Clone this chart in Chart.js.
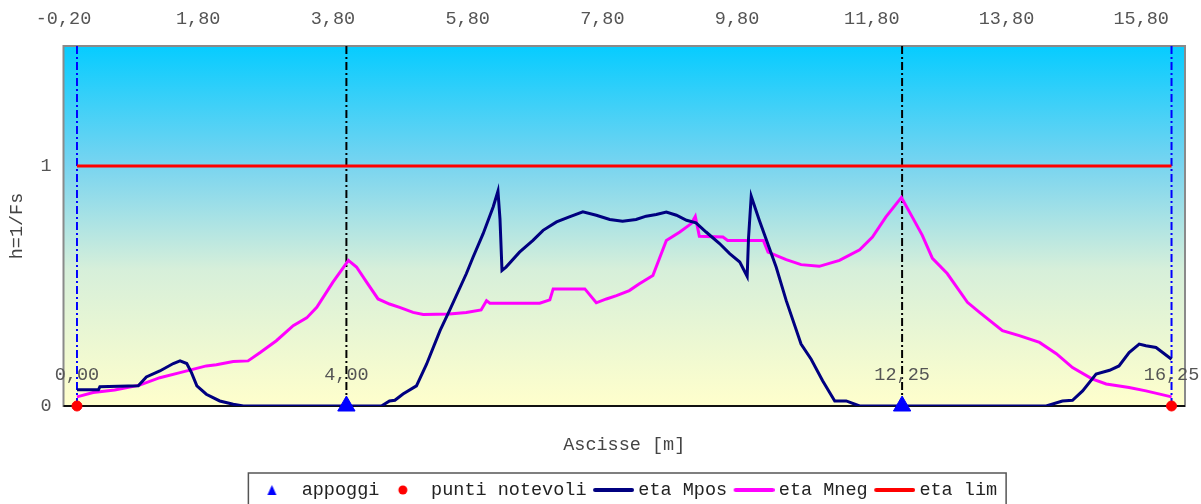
<!DOCTYPE html>
<html>
<head>
<meta charset="utf-8">
<script src="https://cdn.jsdelivr.net/npm/chart.js@4.4.1/dist/chart.umd.min.js"></script>
<style>
  html, body { margin: 0; padding: 0; background: #fff; }
  #wrap { width: 1201px; height: 504px; }
</style>
</head>
<body>
<div id="wrap"><canvas id="etacanvas" width="1201" height="504"></canvas></div>
<script>
// valori
let xTicks = [-0.2, 1.8, 3.8, 5.8, 7.8, 9.8, 11.8, 13.8, 15.8];
let yTicks = [0, 1];

let appoggiX = [4.00, 12.25];
let notevoliX = [0.00, 16.25];
let quoteX = [0.00, 4.00, 12.25, 16.25];

let mposX = [0, 0.32, 0.34, 0.91, 1.03, 1.23, 1.43, 1.53, 1.63, 1.7, 1.78, 1.92, 2.12, 2.32, 2.47,
    4.52, 4.64, 4.72, 4.84, 5.04, 5.19, 5.39, 5.53, 5.78, 5.88, 6.03, 6.18, 6.25, 6.28, 6.31,
    6.37, 6.57, 6.77, 6.92, 7.12, 7.31, 7.51, 7.71, 7.91, 8.1, 8.3, 8.45, 8.6, 8.75, 8.9,
    9.05, 9.19, 9.34, 9.54, 9.69, 9.84, 9.95, 9.97, 10.01, 10.13, 10.38, 10.53, 10.75, 10.9, 11.07,
    11.25, 11.42, 11.62, 14.39, 14.63, 14.78, 14.93, 15.13, 15.33, 15.47, 15.62, 15.77, 15.87, 16.02, 16.25];
let mposY = [0.068, 0.068, 0.08, 0.084, 0.121, 0.146, 0.177, 0.188, 0.177, 0.139, 0.084, 0.049, 0.021, 0.007, 0,
    0, 0.021, 0.024, 0.05, 0.084, 0.174, 0.314, 0.397, 0.551, 0.62, 0.718, 0.83, 0.895, 0.78, 0.565,
    0.579, 0.641, 0.69, 0.732, 0.767, 0.788, 0.809, 0.795, 0.777, 0.77, 0.777, 0.791, 0.798, 0.808, 0.795,
    0.774, 0.763, 0.725, 0.677, 0.635, 0.6, 0.54, 0.70, 0.874, 0.774, 0.579, 0.439, 0.258, 0.195, 0.105,
    0.021, 0.021, 0, 0, 0.021, 0.024, 0.063, 0.133, 0.149, 0.167, 0.223, 0.258, 0.251, 0.244, 0.195];

let mnegX = [0, 0.24, 0.56, 0.93, 1.23, 1.53, 1.92, 2.07, 2.32, 2.54, 2.72, 2.96, 3.21, 3.41, 3.56,
    3.8, 4.03, 4.15, 4.3, 4.47, 4.64, 4.79, 4.99, 5.14, 5.53, 5.78, 6.0, 6.08, 6.13, 6.87,
    7.02, 7.07, 7.54, 7.71, 7.86, 8.01, 8.2, 8.35, 8.55, 8.75, 8.95, 9.12, 9.18, 9.24, 9.59,
    9.66, 10.19, 10.26, 10.53, 10.75, 11.02, 11.32, 11.62, 11.81, 12.01, 12.24, 12.4, 12.55, 12.7, 12.92,
    13.22, 13.4, 13.74, 13.99, 14.29, 14.54, 14.78, 15.07, 15.28, 15.62, 15.87, 16.25];
let mnegY = [0.038, 0.056, 0.067, 0.087, 0.118, 0.139, 0.167, 0.172, 0.185, 0.188, 0.223, 0.272, 0.335, 0.367, 0.411,
    0.516, 0.607, 0.579, 0.516, 0.446, 0.425, 0.411, 0.39, 0.381, 0.383, 0.39, 0.40, 0.439, 0.428, 0.428,
    0.442, 0.488, 0.488, 0.43, 0.446, 0.46, 0.481, 0.509, 0.544, 0.69, 0.725, 0.76, 0.79, 0.707, 0.704,
    0.69, 0.69, 0.641, 0.61, 0.589, 0.582, 0.607, 0.651, 0.704, 0.788, 0.869, 0.788, 0.711, 0.615, 0.552,
    0.432, 0.39, 0.314, 0.293, 0.265, 0.218, 0.16, 0.113, 0.092, 0.077, 0.063, 0.038];

let limX = [0, 16.25];
let limY = [1, 1];

let monoFont = "'Liberation Mono', 'Courier New', monospace";
let fontSize = 18.5;

function toPoints(xs, ys) {
    return xs.map(function(x, i) { return { x: x, y: ys[i] }; });
}
function fmt(v) {
    return v.toFixed(2).replace('.', ',');
}

// icone della legenda (box largo 41)
function makeIcon(kind, color) {
    let c = document.createElement('canvas');
    c.width = 51; c.height = 16;
    let g = c.getContext('2d');
    g.fillStyle = color;
    g.strokeStyle = color;
    if (kind === 'tri') {
        g.beginPath();
        g.moveTo(25.5, 3); g.lineTo(30, 13); g.lineTo(21, 13);
        g.closePath(); g.fill();
    } else if (kind === 'dot') {
        g.beginPath();
        g.arc(27, 8, 4.5, 0, Math.PI * 2);
        g.fill();
    } else {
        g.lineWidth = 4;
        g.lineCap = 'round';
        g.beginPath();
        g.moveTo(12, 8); g.lineTo(49, 8);
        g.stroke();
    }
    return c;
}
let legendIcons = {
    'appoggi': makeIcon('tri', '#0000ff'),
    'punti notevoli': makeIcon('dot', '#ff0000'),
    'eta Mpos': makeIcon('line', '#000080'),
    'eta Mneg': makeIcon('line', '#ff00ff'),
    'eta lim': makeIcon('line', '#ff0000')
};

function verticalLine(x, color) {
    return {
        type: 'scatter',
        data: [{ x: x, y: 0 }, { x: x, y: 1.5 }],
        showLine: true,
        borderColor: color,
        borderWidth: 2,
        borderDash: [8, 3, 2, 3],
        pointRadius: 0,
        inLegend: false,
        order: 10
    };
}

let bgPlugin = {
    id: 'bgPlugin',
    beforeDraw: function(chart) {
        let a = chart.chartArea;
        let ctx = chart.ctx;
        let grad = ctx.createLinearGradient(0, a.top, 0, a.bottom);
        grad.addColorStop(0, '#06ccff');
        grad.addColorStop(0.33, '#78d4f0');
        grad.addColorStop(0.62, '#d6efda');
        grad.addColorStop(1, '#ffffcc');
        ctx.save();
        ctx.fillStyle = grad;
        ctx.fillRect(a.left, a.top, a.right - a.left, a.bottom - a.top);
        ctx.strokeStyle = '#8a8a8a';
        ctx.lineWidth = 2;
        ctx.strokeRect(a.left, a.top, a.right - a.left, a.bottom - a.top);
        ctx.strokeStyle = '#111';
        ctx.lineWidth = 2;
        ctx.beginPath();
        ctx.moveTo(a.left, a.bottom);
        ctx.lineTo(a.right, a.bottom);
        ctx.stroke();
        ctx.restore();
    },
    afterDraw: function(chart) {
        let ctx = chart.ctx;
        let xs = chart.scales.x;
        let ys = chart.scales.y;
        ctx.save();
        // quote sopra gli appoggi
        ctx.font = fontSize + 'px ' + monoFont;
        ctx.fillStyle = '#555';
        ctx.textAlign = 'center';
        ctx.textBaseline = 'middle';
        quoteX.forEach(function(v) {
            ctx.fillText(fmt(v), xs.getPixelForValue(v), ys.getPixelForValue(0) - 31);
        });
        // bordo legenda
        let boxes = chart.legend.legendHitBoxes;
        if (boxes && boxes.length) {
            let l = Math.min.apply(null, boxes.map(function(b) { return b.left; }));
            let r = Math.max.apply(null, boxes.map(function(b) { return b.left + b.width; }));
            ctx.strokeStyle = '#555';
            ctx.lineWidth = 1.5;
            ctx.strokeRect(l - 3, 473, r - l + 12, 60);
        }
        ctx.restore();
    }
};

let Canvas = document.getElementById('etacanvas').getContext('2d');
let etaChart = new Chart(Canvas, {
    type: 'scatter',
    data: {
        datasets: [
            {
                label: 'appoggi',
                data: appoggiX.map(function(x) { return { x: x, y: 0 }; }),
                pointStyle: 'triangle',
                pointRadius: 10,
                pointBackgroundColor: '#0000ff',
                pointBorderColor: '#0000ff',
                clip: false,
                order: 0
            },
            {
                label: 'punti notevoli',
                data: notevoliX.map(function(x) { return { x: x, y: 0 }; }),
                pointStyle: 'circle',
                pointRadius: 5,
                pointBackgroundColor: '#ff0000',
                pointBorderColor: '#ff0000',
                clip: false,
                order: 1
            },
            {
                label: 'eta Mpos',
                data: toPoints(mposX, mposY),
                showLine: true,
                borderColor: '#000080',
                borderWidth: 3,
                pointRadius: 0,
                order: 3
            },
            {
                label: 'eta Mneg',
                data: toPoints(mnegX, mnegY),
                showLine: true,
                borderColor: '#ff00ff',
                borderWidth: 3,
                pointRadius: 0,
                order: 4
            },
            {
                label: 'eta lim',
                data: toPoints(limX, limY),
                showLine: true,
                borderColor: '#ff0000',
                borderWidth: 3,
                pointRadius: 0,
                order: 5
            },
            verticalLine(notevoliX[0], '#0000ff'),
            verticalLine(appoggiX[0], '#000000'),
            verticalLine(appoggiX[1], '#000000'),
            verticalLine(notevoliX[1], '#0000ff')
        ]
    },
    options: {
        responsive: false,
        animation: false,
        layout: { padding: { left: 0, right: 16, top: 0, bottom: -5.25 } },
        plugins: {
            tooltip: { enabled: false },
            legend: {
                position: 'bottom',
                fullSize: false,
                labels: {
                    usePointStyle: true,
                    pointStyleWidth: 41,
                    padding: 1.5,
                    color: '#222',
                    font: { family: monoFont, size: fontSize },
                    filter: function(item, data) {
                        return data.datasets[item.datasetIndex].inLegend !== false;
                    },
                    generateLabels: function(chart) {
                        let items = Chart.defaults.plugins.legend.labels.generateLabels(chart);
                        items.forEach(function(it) {
                            if (legendIcons[it.text]) it.pointStyle = legendIcons[it.text];
                        });
                        return items;
                    }
                }
            }
        },
        scales: {
            x: {
                type: 'linear',
                position: 'top',
                min: -0.2,
                max: 16.45,
                grid: { display: false },
                border: { display: false },
                afterBuildTicks: function(s) {
                    s.ticks = xTicks.map(function(v) { return { value: v }; });
                },
                afterFit: function(s) { s.height = 46; },
                ticks: {
                    padding: 8,
                    color: '#555',
                    font: { family: monoFont, size: fontSize },
                    callback: function(v) { return fmt(v); }
                }
            },
            x2: {
                type: 'linear',
                position: 'bottom',
                min: -0.2,
                max: 16.45,
                grid: { display: false },
                border: { display: false },
                ticks: { display: false },
                afterFit: function(s) { s.height = 73.25; },
                title: {
                    display: true,
                    text: 'Ascisse [m]',
                    color: '#444',
                    padding: { top: 0, bottom: 23.5 },
                    font: { family: monoFont, size: fontSize }
                }
            },
            y: {
                type: 'linear',
                min: 0,
                max: 1.5,
                grid: { display: false },
                border: { display: false },
                afterBuildTicks: function(s) {
                    s.ticks = yTicks.map(function(v) { return { value: v }; });
                },
                afterFit: function(s) { s.width = 63.5; },
                ticks: {
                    padding: 4,
                    color: '#555',
                    font: { family: monoFont, size: fontSize }
                },
                title: {
                    display: true,
                    text: 'h=1/Fs',
                    color: '#444',
                    padding: { top: 6, bottom: 0 },
                    font: { family: monoFont, size: fontSize }
                }
            }
        }
    },
    plugins: [bgPlugin]
});
</script>
</body>
</html>
